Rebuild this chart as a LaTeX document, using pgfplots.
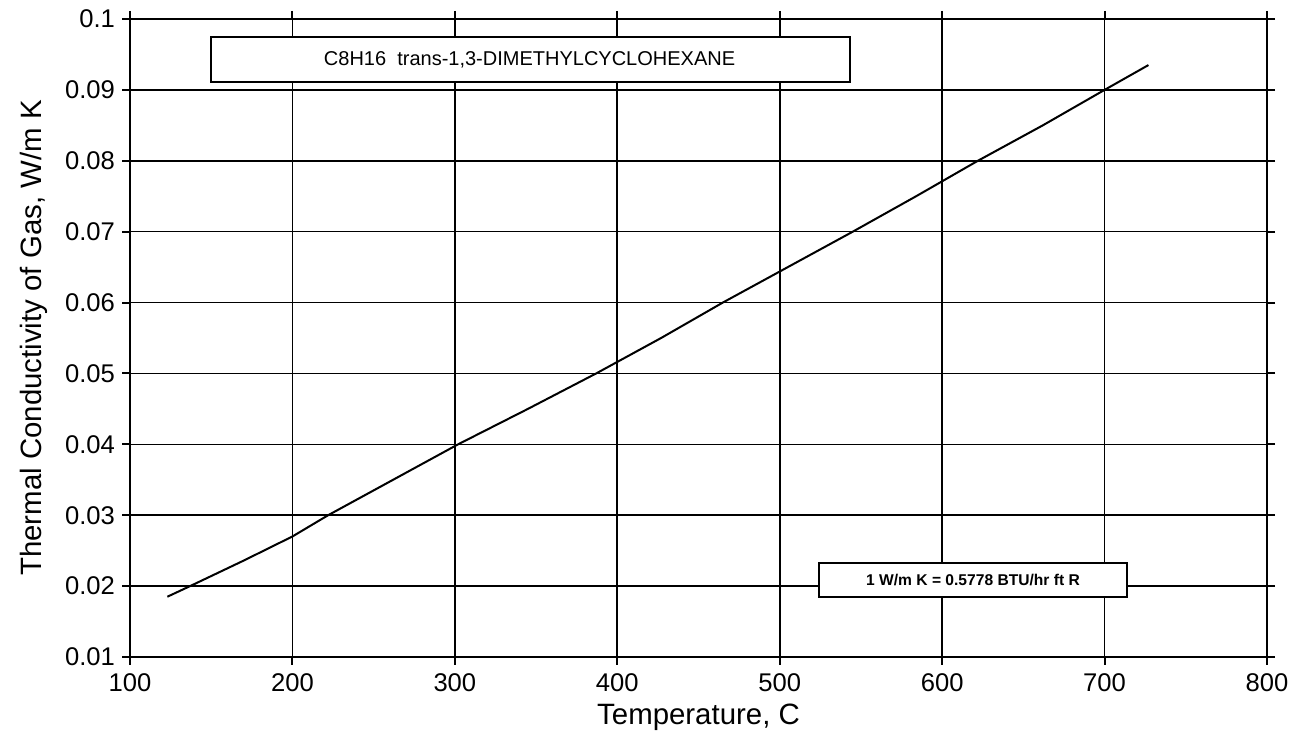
\documentclass[border=0pt]{standalone}
\usepackage{pgfplots}
\pgfplotsset{compat=1.18}
\usepackage{fontspec}
\setmainfont{Liberation Sans}
\begin{document}
\begin{tikzpicture}
\begin{axis}[
  name=ax,
  scale only axis,
  width=568.5pt, height=319pt,
  xmin=100, xmax=800, ymin=0.01, ymax=0.1,
  xtick={100,200,...,800},
  ytick={0.01,0.02,0.03,0.04,0.05,0.06,0.07,0.08,0.09,0.1},
  yticklabels={0.01,0.02,0.03,0.04,0.05,0.06,0.07,0.08,0.09,0.1},
  /pgf/number format/assume math mode=true,
  tick label style={font=\fontsize{12.8}{14}\selectfont},
  label style={font=\fontsize{14.7}{16}\selectfont},
  xlabel={Temperature, C},
  ylabel={Thermal Conductivity of Gas, W/m K},
  xticklabel style={yshift=-1pt},
  xlabel style={yshift=1pt},
  ylabel style={yshift=2pt},
  grid=major,
  major grid style={black, line width=0.8pt},
  axis line style={line width=1.3pt},
  tick style={black, line width=1pt},
  tick align=outside,
  major tick length=4pt,
  clip=false,
]
\addplot[black, line width=1pt] coordinates {
(123,0.0185)(137,0.0200)(170,0.0236)(200,0.0270)(222,0.0300)(262,0.0350)(302,0.0400)(345,0.0450)(387,0.0500)(427,0.0550)(465,0.0600)(505,0.0650)(545,0.0700)(584,0.0750)(622,0.0800)(662,0.0850)(700,0.0900)(727,0.0935)
};
\draw[fill=white, line width=1pt] (axis cs:150,0.0975) rectangle (axis cs:543,0.0911);
\node[font=\fontsize{10}{12}\selectfont] at (axis cs:346,0.0943) {C8H16\ \ trans-1,3-DIMETHYLCYCLOHEXANE};
\draw[fill=white, line width=1pt] (axis cs:524,0.0233) rectangle (axis cs:714,0.0185);
\node[font=\bfseries\fontsize{7.8}{9}\selectfont] at (axis cs:619,0.0209) {1 W/m K = 0.5778 BTU/hr ft R};
\end{axis}
\pgfresetboundingbox
\path ([shift={(-65pt,-40pt)}]ax.south west) rectangle ([shift={(20.5pt,9.5pt)}]ax.north east);
\end{tikzpicture}
\end{document}
